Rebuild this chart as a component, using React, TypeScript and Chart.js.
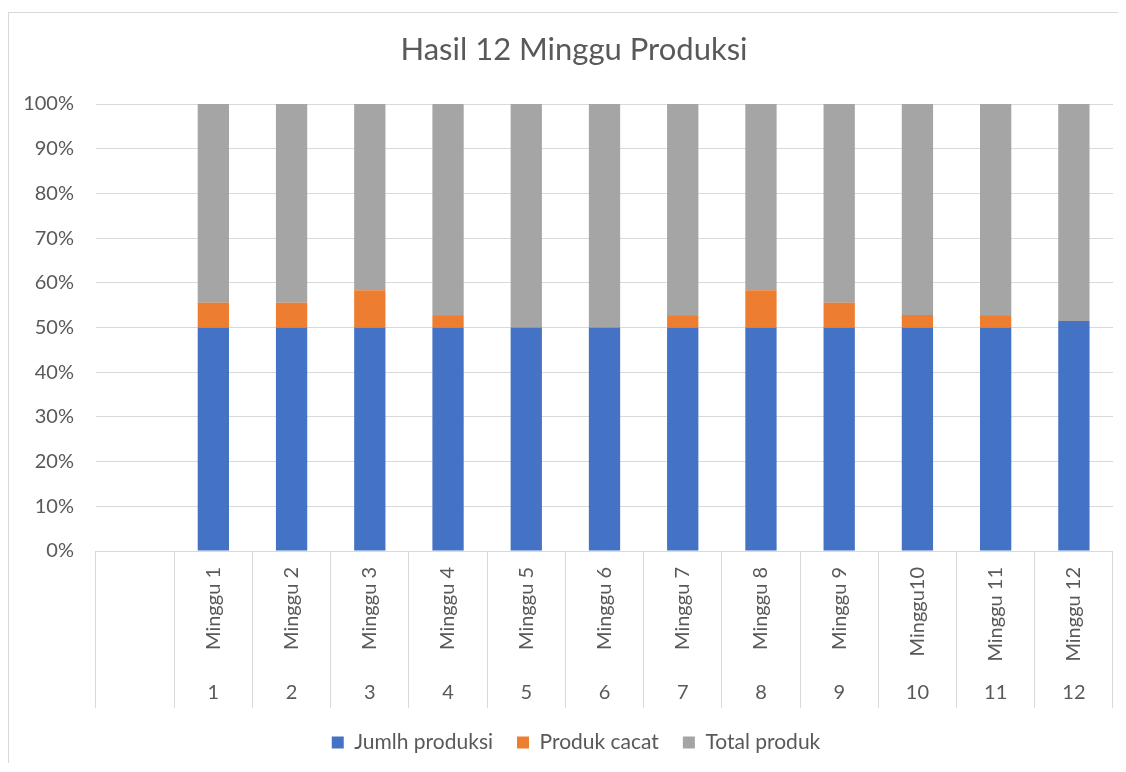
import React, { useEffect, useRef } from 'react';
import { Chart, registerables } from 'chart.js';

Chart.register(...registerables);

const chartTitle = 'Hasil 12 Minggu Produksi';
const categories = ['', 'Minggu 1', 'Minggu 2', 'Minggu 3', 'Minggu 4', 'Minggu 5', 'Minggu 6', 'Minggu 7', 'Minggu 8', 'Minggu 9', 'Minggu10', 'Minggu 11', 'Minggu 12'];
const groupLabels = ['', '1', '2', '3', '4', '5', '6', '7', '8', '9', '10', '11', '12'];
const jumlahProduksi = [null, 18, 18, 18, 18, 18, 18, 18, 18, 18, 18, 18, 18];
const produkCacat = [null, 2, 2, 3, 1, 0, 0, 1, 3, 2, 1, 1, 0];
const totalProduk = [null, 16, 16, 15, 17, 18, 18, 17, 15, 16, 17, 17, 17];
const yTicks = [0, 10, 20, 30, 40, 50, 60, 70, 80, 90, 100];

const TEXT = '#595959';
const GRID = '#d9d9d9';
const FONT = 'Lato';

function toPercent(arr: (number | null)[]) {
  return arr.map((v, i) => {
    if (v == null) return null;
    const sum = (jumlahProduksi[i] || 0) + (produkCacat[i] || 0) + (totalProduk[i] || 0);
    return (v / sum) * 100;
  });
}

const PLOT_BOTTOM = 538;
const TITLE_SHIFT = 13;
const LEGEND_SHIFT = 15;

const categoryLabelPlugin = {
  id: 'categoryLabels',
  afterLayout(chart: any) {
    if (chart.titleBlock) {
      chart.titleBlock.left += TITLE_SHIFT;
      chart.titleBlock.right += TITLE_SHIFT;
    }
    if (chart.legend) {
      chart.legend.left += LEGEND_SHIFT;
      chart.legend.right += LEGEND_SHIFT;
    }
  },
  afterDraw(chart: any) {
    const ctx = chart.ctx;
    const xs = chart.scales.x;
    const bottom = chart.chartArea.bottom;
    ctx.save();
    ctx.fillStyle = TEXT;
    ctx.font = `20px ${FONT}`;
    categories.forEach((lab, i) => {
      if (!lab) return;
      const x = xs.getPixelForValue(i);
      ctx.save();
      ctx.translate(x, bottom + 16);
      ctx.rotate(-Math.PI / 2);
      ctx.textAlign = 'right';
      ctx.textBaseline = 'middle';
      ctx.fillText(lab, 0, 0);
      ctx.restore();
    });
    ctx.textAlign = 'center';
    ctx.textBaseline = 'middle';
    groupLabels.forEach((lab, i) => {
      if (!lab) return;
      const x = xs.getPixelForValue(i);
      ctx.fillText(lab, x, bottom + 142);
    });
    ctx.restore();
  },
};

export default function App() {
  const ref = useRef<HTMLCanvasElement | null>(null);

  useEffect(() => {
    if (!ref.current) return;
    const chart = new Chart(ref.current, {
      type: 'bar',
      data: {
        labels: categories,
        datasets: [
          { label: 'Jumlh produksi', data: toPercent(jumlahProduksi), backgroundColor: '#4472C4', borderWidth: 0 },
          { label: 'Produk cacat', data: toPercent(produkCacat), backgroundColor: '#ED7D31', borderWidth: 0 },
          { label: 'Total produk', data: toPercent(totalProduk), backgroundColor: '#A5A5A5', borderWidth: 0 },
        ],
      },
      options: {
        responsive: false,
        animation: false,
        datasets: { bar: { categoryPercentage: 0.4, barPercentage: 1 } },
        layout: { padding: { left: 0, right: 5, top: 0, bottom: 0 } },
        plugins: {
          title: {
            display: true,
            text: chartTitle,
            color: TEXT,
            font: { family: FONT, size: 31, weight: 'normal', lineHeight: 1.2 },
            padding: { top: 18.4, bottom: 35.4 },
          },
          legend: {
            display: true,
            position: 'bottom',
            labels: {
              color: TEXT,
              font: { family: FONT, size: 21 },
              boxWidth: 12,
              boxHeight: 12,
              padding: 24,
            },
          },
          tooltip: { enabled: false },
        },
        scales: {
          x: {
            stacked: true,
            border: { display: false },
            grid: {
              offset: true,
              drawOnChartArea: false,
              drawTicks: true,
              tickLength: 157,
              tickColor: GRID,
              color: GRID,
            },
            ticks: { display: false },
            afterFit: (scale: any) => {
              const lh = scale.chart.legend ? scale.chart.legend.height : 0;
              scale.height = scale.chart.height - PLOT_BOTTOM - lh;
            },
          },
          y: {
            stacked: true,
            min: 0,
            max: 100,
            border: { display: false },
            grid: { color: GRID, drawTicks: false },
            ticks: {
              color: TEXT,
              font: { family: FONT, size: 20 },
              padding: 22,
              callback: (v: any) => v + '%',
            },
            afterBuildTicks: (scale: any) => {
              scale.ticks = yTicks.map((v) => ({ value: v }));
            },
            afterFit: (scale: any) => {
              scale.width = 87;
            },
          },
        },
      },
      plugins: [categoryLabelPlugin],
    });
    return () => chart.destroy();
  }, []);

  return (
    <div style={{ paddingTop: 4 }}>
      <div style={{ borderTop: '1px solid #d9d9d9', borderLeft: '1px solid #d9d9d9', width: 1109, height: 750 }}>
        <canvas ref={ref} width={1109} height={750} style={{ display: 'block' }} />
      </div>
    </div>
  );
}
